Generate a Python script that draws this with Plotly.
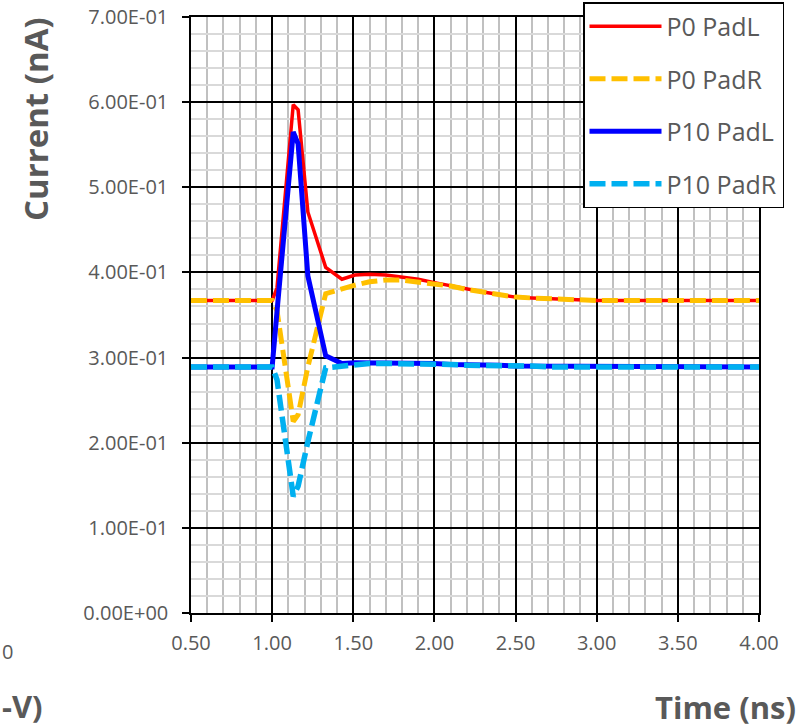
import plotly.graph_objects as go

# ---- data ----
time_ns = [0.5, 1.0, 1.03, 1.13, 1.16, 1.22, 1.33, 1.43, 1.51, 1.6, 1.7, 1.8, 1.9,
           2.0, 2.1, 2.2, 2.3, 2.4, 2.5, 2.6, 2.7, 2.8, 2.9, 3.0, 3.5, 4.0]

p0_padl = [0.367, 0.367, 0.382, 0.597, 0.591, 0.471, 0.406, 0.392, 0.397, 0.398, 0.397,
           0.395, 0.392, 0.388, 0.384, 0.380, 0.377, 0.374, 0.371, 0.370, 0.369, 0.368,
           0.367, 0.367, 0.367, 0.367]

p0_padr = [0.367, 0.367, 0.355, 0.225, 0.233, 0.289, 0.375, 0.381, 0.385, 0.389, 0.391,
           0.391, 0.389, 0.387, 0.384, 0.380, 0.377, 0.374, 0.371, 0.370, 0.369, 0.368,
           0.367, 0.367, 0.367, 0.367]

p10_padl = [0.289, 0.289, 0.354, 0.565, 0.551, 0.396, 0.302, 0.293, 0.294, 0.294, 0.294,
            0.294, 0.293, 0.293, 0.292, 0.292, 0.291, 0.291, 0.290, 0.290, 0.290, 0.289,
            0.289, 0.289, 0.289, 0.289]

p10_padr = [0.289, 0.289, 0.274, 0.137, 0.149, 0.201, 0.288, 0.290, 0.292, 0.293, 0.293,
            0.293, 0.293, 0.292, 0.292, 0.291, 0.291, 0.290, 0.290, 0.290, 0.289, 0.289,
            0.289, 0.289, 0.289, 0.289]

series_names = ["P0 PadL", "P0 PadR", "P10 PadL", "P10 PadR"]
y_tick_vals = [0.0, 0.1, 0.2, 0.3, 0.4, 0.5, 0.6, 0.7]
y_tick_text = ["0.00E+00", "1.00E-01", "2.00E-01", "3.00E-01",
               "4.00E-01", "5.00E-01", "6.00E-01", "7.00E-01"]
x_tick_vals = [0.5, 1.0, 1.5, 2.0, 2.5, 3.0, 3.5, 4.0]

FONT = "Open Sans"
GRAY = "#595959"

styles = [
    dict(color="#FF0000", width=3.5, dash="solid"),
    dict(color="#FFC000", width=5, dash="16px,6px"),
    dict(color="#0000FF", width=5, dash="solid"),
    dict(color="#00B0F0", width=5.5, dash="16px,6px"),
]

fig = go.Figure()
for name, ys, st in zip(series_names, [p0_padl, p0_padr, p10_padl, p10_padr], styles):
    fig.add_trace(go.Scatter(x=time_ns, y=ys, mode="lines", name=name,
                             legendgroup=name, line=st))

fig.update_layout(
    width=800, height=727,
    margin=dict(l=191, r=41, t=17, b=114, autoexpand=False),
    plot_bgcolor="white", paper_bgcolor="white",
    font=dict(family=FONT, color=GRAY, size=20),
    showlegend=True,
    legend=dict(
        x=(583 - 191) / 568, y=(613 - 2) / 596, xanchor="left", yanchor="top",
        bgcolor="white", bordercolor="black", borderwidth=1.5,
        font=dict(family=FONT, size=25, color=GRAY),
        tracegroupgap=17, itemwidth=72, entrywidth=125,
    ),
)

fig.update_xaxes(
    range=[0.5, 4.0], tickvals=x_tick_vals, tickformat=".2f",
    showline=True, linecolor="black", linewidth=1.5, mirror=True,
    showgrid=True, gridcolor="black", gridwidth=1.5,
    ticks="outside", ticklen=7, tickcolor="black", tickwidth=1.5,
    ticklabelstandoff=4,
    minor=dict(dtick=0.1, showgrid=True, gridcolor="#c0c0c0", gridwidth=2),
    zeroline=False,
    tickfont=dict(family=FONT, size=20, color=GRAY),
)
fig.update_yaxes(
    range=[0, 0.7], tickvals=y_tick_vals, ticktext=y_tick_text,
    showline=True, linecolor="black", linewidth=1.5, mirror=True,
    showgrid=True, gridcolor="black", gridwidth=1.5,
    ticks="outside", ticklen=7, tickcolor="black", tickwidth=1.5,
    ticklabelstandoff=10,
    minor=dict(dtick=0.02, showgrid=True, gridcolor="#d9d9d9", gridwidth=1.5),
    zeroline=False,
    tickfont=dict(family=FONT, size=20, color=GRAY),
)

# axis titles and neighbouring text at the picture edges
fig.add_annotation(text="<b>Current (nA)</b>", xref="paper", yref="paper",
                   x=(35 - 191) / 568, y=(613 - 119) / 596, xanchor="center", yanchor="middle",
                   textangle=-90, showarrow=False,
                   font=dict(family=FONT, size=33, color=GRAY))
fig.add_annotation(text="<b>Time (ns)</b>", xref="paper", yref="paper",
                   x=(798 - 191) / 568, y=(613 - 707) / 596, xanchor="right", yanchor="middle",
                   showarrow=False, font=dict(family=FONT, size=31, color=GRAY))
fig.add_annotation(text="0", xref="paper", yref="paper",
                   x=(0 - 191) / 568, y=(613 - 651) / 596, xanchor="left", yanchor="middle",
                   showarrow=False, font=dict(family=FONT, size=20, color=GRAY))
fig.add_annotation(text="<b>-V)</b>", xref="paper", yref="paper",
                   x=(0 - 191) / 568, y=(613 - 706) / 596, xanchor="left", yanchor="middle",
                   showarrow=False, font=dict(family=FONT, size=31, color=GRAY))

fig.write_html("out.html")
